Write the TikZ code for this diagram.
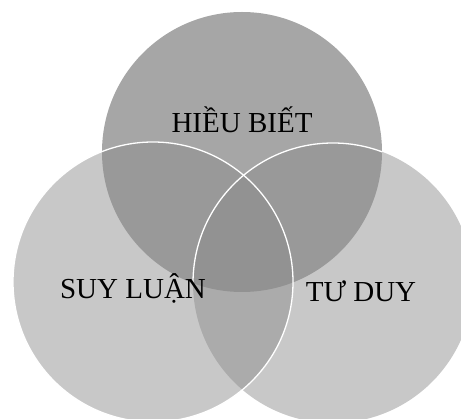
\documentclass[tikz,border=0pt]{standalone}
\usepackage{fontspec}
\setmainfont{Liberation Serif}
\usetikzlibrary{positioning}
\definecolor{topgray}{gray}{0.651}
\definecolor{sidegray}{gray}{0.545}
\tikzstyle{set} = [circle, minimum size=280pt, inner sep=0pt]
\tikzstyle{side} = [set, fill=sidegray, fill opacity=0.47]
\tikzstyle{lbl} = [anchor=base, font=\fontsize{29}{34}\selectfont]
\tikzstyle{rim} = [white, line width=1.3pt]

\begin{document}
\begin{tikzpicture}[x=1pt,y=-1pt]
\useasboundingbox (0,0) rectangle (461,419);
% Circles
\node [set, fill=topgray] (hieubiet) at (242,152) {};
\node [side] (suyluan) at (153,282) {};
\node [side] (tuduy) at (333,283) {};

% White rims
\draw [rim] (suyluan.center) circle (140pt);
\begin{scope}
\clip (hieubiet.center) circle (140pt);
\draw [rim] (tuduy.center) circle (140pt);
\end{scope}

% Labels
\node [lbl] (hb) at (242,133) {HIỀU BIẾT};
\node [lbl] (sl) at (133,299) {SUY LUẬN};
\node [lbl] (td) at (361,302) {TƯ DUY};
\end{tikzpicture}
\end{document}
